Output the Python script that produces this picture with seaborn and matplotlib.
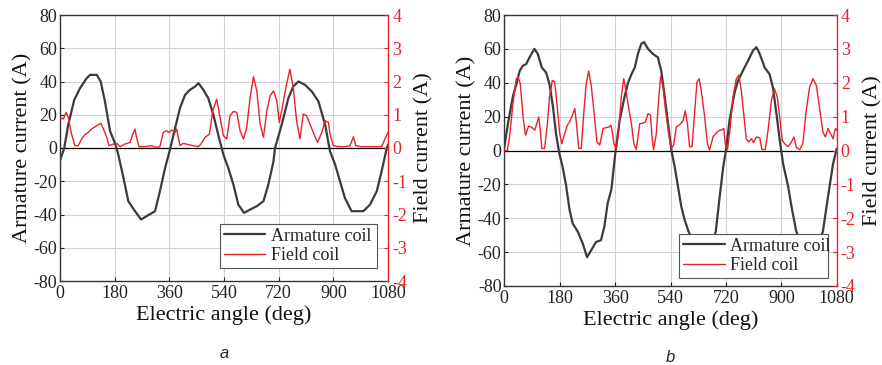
import numpy as np
import pandas as pd
import matplotlib
matplotlib.use("Agg")
import matplotlib.pyplot as plt
import seaborn as sns

# ---------------- data: panel a ----------------
a_arm_deg = [0, 14, 27, 47, 66, 88, 99, 121, 134, 148, 165, 181, 192, 209, 225, 247, 267, 285, 313, 329, 346,
             362, 379, 395, 412, 428, 445, 456, 472, 488, 505, 521, 538, 554, 571, 587, 606, 626, 648, 670, 686, 703,
             708, 730, 752, 768, 785, 807, 829, 851, 873, 889, 906, 922, 938, 960, 982, 999, 1021, 1043, 1059, 1076, 1080]
a_arm_val = [-7.6, 0, 14, 29, 36, 42, 44, 44, 40, 28, 10, 3, -4, -18, -32, -38, -43, -41, -38, -26, -12,
             -1, 12, 24, 32, 35, 37, 39, 35, 30, 20, 8, -4, -12, -22, -34, -39, -37, -35, -32, -22, -8,
             0, 14, 30, 37, 40, 38, 34, 28, 14, -2, -10, -20, -30, -38, -38, -38, -34, -26, -14, 0, 2]

a_fld_deg = [0, 11, 20, 27, 38, 49, 60, 71, 82, 93, 104, 121, 135, 143, 154, 161, 176, 187, 198, 214, 231, 239,
             247, 252, 260, 280, 302, 313, 329, 340, 351, 357, 368, 379, 384, 395, 406, 423, 439, 456, 464, 478,
             492, 503, 516, 527, 538, 549, 560, 571, 582, 593, 604, 615, 626, 637, 648, 659, 670, 681, 692, 703,
             714, 722, 730, 746, 757, 768, 779, 790, 801, 812, 823, 834, 848, 862, 873, 884, 889, 900, 917, 938,
             955, 966, 974, 993, 1015, 1037, 1059, 1070, 1080]
a_fld_val = [0.92, 0.87, 1.07, 0.92, 0.42, 0.07, 0.07, 0.27, 0.40, 0.47, 0.57, 0.67, 0.74, 0.57, 0.32, 0.07, 0.12,
             0.14, 0.04, 0.12, 0.17, 0.40, 0.57, 0.32, 0.04, 0.04, 0.07, 0.02, 0.04, 0.47, 0.52, 0.47, 0.54, 0.47,
             0.57, 0.07, 0.14, 0.10, 0.07, 0.04, 0.12, 0.32, 0.42, 1.12, 1.47, 0.92, 0.37, 0.27, 0.97, 1.10, 1.07,
             0.52, 0.27, 0.62, 1.52, 2.14, 1.72, 0.72, 0.32, 1.12, 1.57, 1.72, 1.42, 0.77, 1.12, 1.92, 2.37, 1.82,
             0.82, 0.27, 1.02, 0.97, 0.72, 0.47, 0.17, 0.47, 0.82, 0.77, 0.42, 0.07, 0.04, 0.04, 0.07, 0.34, 0.07,
             0.04, 0.04, 0.04, 0.04, 0.27, 0.47]

# ---------------- data: panel b ----------------
b_arm_deg = [0, 12, 28, 39, 50, 60, 71, 82, 98, 109, 122, 136, 147, 158, 168, 179, 190, 201, 212, 222, 239, 255,
             269, 282, 298, 314, 325, 336, 348, 361, 375, 391, 402, 413, 424, 434, 445, 454, 467, 483, 499, 510,
             521, 532, 543, 554, 564, 575, 586, 599, 620, 640, 665, 687, 700, 711, 720, 732, 748, 759, 775, 792,
             808, 819, 830, 846, 862, 873, 884, 895, 906, 922, 935, 949, 970, 990, 1012, 1035, 1052, 1068, 1080]
b_arm_val = [2, 16, 32, 39, 47, 50, 51, 55, 60, 57, 49, 46, 39, 26, 10, -2, -10, -21, -35, -43, -48, -55,
             -63, -59, -54, -53, -45, -31, -23, -1, 18, 32, 40, 45, 49, 57, 63, 64, 60, 57, 55, 47,
             32, 16, 0, -10, -21, -33, -41, -48, -56, -62, -58, -48, -27, -10, 0, 18, 34, 41, 47, 53,
             59, 61, 57, 49, 45, 37, 22, 6, -8, -21, -35, -48, -57, -62, -58, -48, -27, -8, 1]

b_fld_deg = [0, 10, 17, 28, 39, 45, 52, 61, 69, 79, 90, 99, 112, 117, 122, 131, 140, 147, 156, 164, 172, 180,
             187, 196, 205, 212, 220, 229, 235, 242, 250, 259, 266, 274, 283, 293, 301, 310, 321, 332, 342, 346,
             350, 356, 364, 372, 380, 388, 393, 402, 413, 421, 429, 440, 451, 458, 467, 475, 480, 485, 494, 502,
             508, 516, 524, 534, 543, 550, 559, 570, 581, 588, 595, 602, 610, 619, 626, 633, 640, 651, 660, 667,
             678, 689, 700, 705, 713, 718, 725, 732, 743, 754, 762, 770, 779, 786, 794, 803, 810, 819, 830, 837,
             848, 857, 868, 878, 887, 896, 903, 911, 922, 933, 941, 949, 960, 970, 981, 992, 1003, 1014, 1025,
             1035, 1043, 1052, 1060, 1068, 1076, 1080]
b_fld_val = [0.0, 0.0, 0.40, 1.38, 2.12, 2.17, 1.97, 0.99, 0.45, 0.72, 0.68, 0.60, 0.99, 0.60, 0.06, 0.06, 0.79,
             1.58, 2.07, 2.02, 1.28, 0.50, 0.20, 0.50, 0.75, 0.84, 1.01, 1.24, 0.75, 0.06, 0.06, 1.19, 1.97, 2.34,
             1.87, 0.99, 0.25, 0.16, 0.65, 0.68, 0.70, 0.75, 0.60, 0.20, 0.03, 0.60, 1.58, 2.12, 1.87, 1.38, 0.79,
             0.20, 0.03, 0.79, 0.81, 0.84, 1.09, 1.04, 0.40, 0.03, 0.50, 1.58, 2.19, 1.87, 1.19, 0.50, 0.06, 0.16,
             0.70, 0.76, 0.89, 1.17, 0.79, 0.11, 0.11, 1.19, 2.02, 2.12, 1.77, 0.99, 0.20, 0.01, 0.40, 0.52, 0.60,
             0.60, 0.65, 0.20, 0.03, 0.50, 1.58, 2.12, 2.22, 1.77, 0.99, 0.35, 0.25, 0.35, 0.23, 0.40, 0.37, 0.03,
             0.03, 0.60, 1.48, 1.82, 1.58, 0.89, 0.30, 0.20, 0.11, 0.25, 0.40, 0.09, 0.03, 0.20, 1.19, 1.87, 2.12,
             1.92, 1.19, 0.55, 0.40, 0.65, 0.50, 0.35, 0.65, 0.60]

x_ticks = [0, 180, 360, 540, 720, 900, 1080]
left_ticks = [-80, -60, -40, -20, 0, 20, 40, 60, 80]
right_ticks = [-4, -3, -2, -1, 0, 1, 2, 3, 4]
series_names = ["Armature coil", "Field coil"]
panel_labels = ["a", "b"]

# ---------------- style ----------------
sns.set_theme(style="white")
plt.rcParams['font.family'] = ['Liberation Serif', 'DejaVu Serif']

ARM_C = "#3b3b3b"
FLD_C = "#e8212b"
GRID_C = "#d2d2d2"

fig = plt.figure(figsize=(8.82, 3.65), dpi=100)
positions = [[60 / 882, 84 / 365, 328 / 882, 266 / 365],
             [504.3 / 882, 79 / 365, 332.4 / 882, 271 / 365]]
legend_boxes = [(0.488, 0.049, 0.478, 0.184), (0.527, 0.030, 0.446, 0.173)]
label_y = [(365 - 353) / 365, (365 - 357) / 365]

panels = [
    (a_arm_deg, a_arm_val, a_fld_deg, a_fld_val),
    (b_arm_deg, b_arm_val, b_fld_deg, b_fld_val),
]

for i, (adeg, aval, fdeg, fval) in enumerate(panels):
    ax = fig.add_axes(positions[i])
    ax2 = ax.twinx()
    df_a = pd.DataFrame({"deg": adeg, "val": aval})
    df_f = pd.DataFrame({"deg": fdeg, "val": fval})

    # grid
    ax.set_axisbelow(True)
    for xv in x_ticks[1:-1]:
        ax.axvline(xv, color=GRID_C, lw=0.8, zorder=0)
    for yv in left_ticks[1:-1]:
        if yv != 0:
            ax.axhline(yv, color=GRID_C, lw=0.8, zorder=0)
    ax.axhline(0, color="black", lw=0.9, zorder=1)

    sns.lineplot(data=df_a, x="deg", y="val", ax=ax, color=ARM_C, lw=1.6,
                 sort=False, estimator=None, legend=False, zorder=3)
    sns.lineplot(data=df_f, x="deg", y="val", ax=ax2, color=FLD_C, lw=1.0,
                 sort=False, estimator=None, legend=False, zorder=3)

    ax.set_xlim(0, 1080)
    ax.set_ylim(-80, 80)
    ax2.set_ylim(-4, 4)
    ax.set_xticks(x_ticks)
    ax.set_yticks(left_ticks)
    ax2.set_yticks(right_ticks)
    ax.set_xticklabels([str(v) for v in x_ticks])
    ax.set_yticklabels([str(v) for v in left_ticks])
    ax2.set_yticklabels([str(v) for v in right_ticks])

    ax.tick_params(axis="x", direction="in", length=3, width=0.8, labelsize=13,
                   colors="#222222", pad=3, bottom=True)
    ax.tick_params(axis="y", direction="in", length=3, width=0.8, labelsize=13,
                   colors="#222222", pad=2, left=True)
    ax2.tick_params(axis="y", direction="in", length=3, width=0.8, labelsize=13,
                    colors=FLD_C, pad=3, right=True)

    for s in ["left", "bottom", "top"]:
        ax.spines[s].set_color("#333333")
        ax.spines[s].set_linewidth(1.0)
    ax.spines["right"].set_visible(False)
    for s in ["left", "bottom", "top"]:
        ax2.spines[s].set_visible(False)
    ax2.spines["right"].set_color(FLD_C)
    ax2.spines["right"].set_linewidth(1.0)

    ax.set_xlabel("Electric angle (deg)", fontsize=16, labelpad=2, color="#111111")
    ax.set_ylabel("Armature current (A)", fontsize=16, labelpad=1, color="#111111")
    ax2.set_ylabel("Field current (A)", fontsize=16, labelpad=5, color="#111111")

    handles = [ax.get_lines()[-1], ax2.get_lines()[-1]]
    leg = ax2.legend(handles, series_names, loc="lower left",
                     bbox_to_anchor=legend_boxes[i], mode="expand",
                     fontsize=13, frameon=True, fancybox=False, framealpha=1,
                     edgecolor="#555555", borderpad=0.2, labelspacing=0.15,
                     handlelength=2.3, handletextpad=0.3, borderaxespad=0)
    leg.get_frame().set_linewidth(0.8)
    leg.set_zorder(10)

    cx = positions[i][0] + positions[i][2] / 2
    fig.text(cx, label_y[i], panel_labels[i],
             ha="center", va="center", fontsize=12, style="italic",
             family=["Liberation Sans", "DejaVu Sans"])

fig.savefig("out.png", dpi=100)
